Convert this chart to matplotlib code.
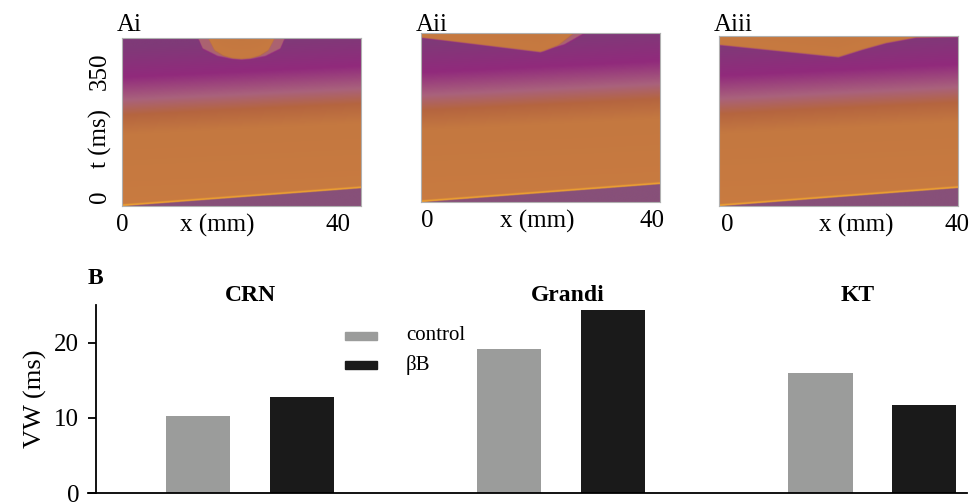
import numpy as np
import matplotlib.pyplot as plt
from matplotlib.colors import LinearSegmentedColormap
from matplotlib.patches import Rectangle

plt.rcParams['font.family'] = ['Liberation Serif', 'DejaVu Serif']

# --- panel B data ---
models = ['CRN', 'Grandi', 'KT']
vw_control = [10.3, 19.1, 16.0]
vw_bb = [12.8, 24.3, 11.7]

# --- panel A data (x in mm, t in ms) ---
x_len = 40
t_max = 440
act_x = [0, 40]          # activation front
act_t = [0, 47]
band_x = [0, 40]         # repolarisation band (pink)
band_t = [278, 308]

panel_names = ['Ai', 'Aii', 'Aiii']
# re-excitation front per panel (values above t_max = no re-excitation)
re_x = [[0, 14.3, 15.5, 17, 18.5, 20, 21.5, 23, 24.5, 25.7, 40],
        [0, 20, 23, 25.5, 27, 40],
        [0, 20, 24, 28, 33, 40]]
re_t = [[600, 445, 409, 395, 388, 386, 388, 395, 409, 445, 600],
        [428, 391, 410, 440, 600, 600],
        [417, 386, 405, 422, 436, 438]]
# pale halo ahead of the re-excitation
halo_x = [[0, 12, 13.5, 16, 18, 20, 22, 24, 26.5, 28, 40],
          [0, 20, 20.5, 24, 28, 29.5, 40],
          [0, 40]]
halo_t = [[600, 460, 407, 388, 382, 380, 382, 388, 407, 460, 600],
          [428, 391, 389, 405, 440, 600, 600],
          [600, 600]]

cm_pos = [0.0, 0.03, 0.08, 0.14, 0.45, 0.55, 0.65, 0.76, 1.0]
cm_col = ['#875079', '#875079', '#f2a52e', '#c97b40', '#c47841',
          '#b5653f', '#a9627c', '#912a7c', '#7f3a78']
vm_cmap = LinearSegmentedColormap.from_list('vm', list(zip(cm_pos, cm_col)))


def vm_field(rx, rt, hx, ht):
    xx, tt = np.meshgrid(np.linspace(0, x_len, 400), np.linspace(0, t_max, 440))
    ta = np.interp(xx, act_x, act_t)
    tb = np.interp(xx, band_x, band_t)
    c = np.interp(tt - tb, [-300, -90, -40, 0, 60, 140],
                  [0.14, 0.45, 0.55, 0.65, 0.76, 1.0])
    d = tt - ta
    c = np.where(d < 6, np.interp(d, [-2, 0, 2, 5], [0.02, 0.08, 0.08, 0.14]), c)
    # soft pale halo
    th = np.interp(xx, hx, ht)
    wh = np.clip((tt - th) / 8, 0, 1)
    c = c * (1 - wh) + 0.63 * wh
    # re-excited region, orange, soft edge
    tr = np.interp(xx, rx, rt)
    d2 = tt - tr
    c_re = np.interp(d2, [0, 25, 60], [0.25, 0.35, 0.5])
    w = np.clip((d2 + 3) / 7, 0, 1)
    c = c * (1 - w) + c_re * w
    return c


fig = plt.figure(figsize=(9.76, 5.03), dpi=100)

a_boxes = [(122, 206, 168), (421, 202, 169), (719, 206, 170)]
tick_pos = [(0.0, 0.40, 0.904), (0.025, 0.485, 0.967), (0.033, 0.575, 0.995)]
lab_y = [1.077, 1.047, 1.065]
for i in range(3):
    left, bot, h = a_boxes[i]
    ax = fig.add_axes([left / 976, 1 - bot / 503, 239 / 976, h / 503])
    img = vm_field(re_x[i], re_t[i], halo_x[i], halo_t[i])
    ax.imshow(img, cmap=vm_cmap, vmin=0, vmax=1, origin='lower', aspect='auto',
              extent=[0, x_len, 0, t_max], interpolation='bilinear')
    ax.set_xticks([])
    ax.set_yticks([])
    for sp in ax.spines.values():
        sp.set_color('#b0b0b0')
        sp.set_linewidth(0.8)
    ax.text(-0.02, lab_y[i], panel_names[i], transform=ax.transAxes,
            fontsize=18, ha='left', va='center')
    yb = -19 / h
    for xp, s in zip(tick_pos[i], ['0', 'x (mm)', '40']):
        ax.text(xp, yb, s, transform=ax.transAxes, fontsize=18,
                ha='center', va='center')
    if i == 0:
        for yp, s in zip([0.054, 0.40, 0.80], ['0', 't (ms)', '350']):
            ax.text(-0.092, yp, s, transform=ax.transAxes, fontsize=18,
                    rotation=90, ha='center', va='center')

# --- panel B ---
axb = fig.add_axes([88 / 976, 10 / 503, 879 / 976, 188 / 503])
xpos = np.arange(len(models))
axb.bar(xpos - 0.166, vw_control, 0.206, color='#9b9c9b')
axb.bar(xpos + 0.166, vw_bb, 0.206, color='#1a1a1a')
axb.set_xlim(-0.521, 2.305)
axb.set_ylim(0, 25)
axb.spines['top'].set_visible(False)
axb.spines['right'].set_visible(False)
axb.spines['left'].set_position(('axes', 8 / 879))
axb.spines['left'].set_linewidth(1.3)
axb.spines['bottom'].set_linewidth(1.3)
axb.set_xticks([])
axb.set_yticks([0, 10, 20])
axb.tick_params(axis='y', length=6, width=1.3, labelsize=18, pad=6)
axb.set_ylabel('VW (ms)', fontsize=19, labelpad=5)

title_x = [0, 1.02, 1.955]
for xp, name in zip(title_x, models):
    axb.text(xp, 26.3, name, fontsize=17, fontweight='bold',
             ha='center', va='center', clip_on=False)
fig.text(88 / 976, 1 - 278 / 503, 'B', fontsize=17, fontweight='bold',
         ha='left', va='center')

# legend drawn by hand
for yc, col, lab in [(336, '#9b9c9b', 'control'), (365, '#1a1a1a', 'βB')]:
    fig.add_artist(Rectangle((345 / 976, 1 - (yc + 4) / 503), 32 / 976, 8 / 503,
                             transform=fig.transFigure, color=col))
    fig.text(406 / 976, 1 - yc / 503, lab, fontsize=15, ha='left', va='center')

fig.savefig('out.png', dpi=100)
